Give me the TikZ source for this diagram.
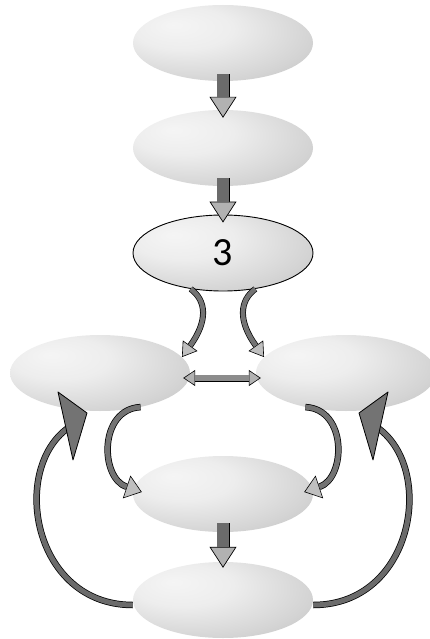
\documentclass[tikz,border=0pt]{standalone}
\usepackage{fontspec}
\setmainfont{Carlito}
\usetikzlibrary{arrows.meta,shapes.geometric}
\pgfdeclareradialshading{ellsh}{\pgfpoint{-14bp}{12bp}}{%
  color(0bp)=(black!4); color(14bp)=(black!7); color(32bp)=(black!17);
  color(50bp)=(black!29); color(70bp)=(black!36)}
\tikzset{
  ell/.style={ellipse, minimum width=180pt, minimum height=76pt, inner sep=0pt, shading=ellsh},
  blockdown/.style={line width=13pt, draw=black,
    -{Triangle[width=27pt,length=21pt,line width=0.7pt,fill=black!30]},
    postaction={draw=black!58, line width=11.4pt, arrows=-, shorten >=21pt}},
  dblarrow/.style={line width=7pt, draw=black,
    {Triangle[width=16pt,length=12pt,line width=0.6pt,fill=black!30]}-{Triangle[width=16pt,length=12pt,line width=0.6pt,fill=black!30]},
    postaction={draw=black!45, line width=5.6pt, arrows=-, shorten >=12pt, shorten <=12pt}},
  curvarrow/.style={line width=6pt, draw=black,
    -{Triangle[width=18pt,length=14pt,line width=0.6pt,fill=black!25]},
    postaction={draw=black!55, line width=4.6pt, arrows=-, shorten >=14pt}},
  curvarrowb/.style={line width=6.5pt, draw=black,
    -{Triangle[width=24pt,length=16pt,line width=0.6pt,fill=black!25]},
    postaction={draw=black!55, line width=5pt, arrows=-, shorten >=16pt}},
  bigshaft/.style={line width=6.5pt, draw=black,
    postaction={draw=black!58, line width=5pt}},
  bighead/.style={fill=black!55, draw=black, line width=0.8pt, line join=round}
}
\begin{document}
\begin{tikzpicture}[x=1pt,y=-1pt]
\useasboundingbox (0,0) rectangle (429,639);
% ellipses
\node[ell] (e1) at (223,43) {};
\node[ell] (e2) at (223,148) {};
\node[ell, draw=black, line width=0.9pt, font=\fontsize{40}{40}\selectfont] (e3) at (223,253) {3};
\node[ell] (e4) at (100,373) {};
\node[ell] (e5) at (346,373) {};
\node[ell] (e6) at (223,494) {};
\node[ell] (e7) at (223,600) {};
% straight arrows
\draw[blockdown] ([yshift=7pt]e1.south) -- ([yshift=-8pt]e2.north);
\draw[blockdown] ([yshift=8pt]e2.south) -- ([yshift=-8pt]e3.north);
\draw[blockdown] ([yshift=9pt]e6.south) -- ([yshift=-6pt]e7.north);
% double arrow
\draw[dblarrow] ([xshift=-7pt,yshift=-5pt]e4.east) -- ([xshift=5pt,yshift=-5pt]e5.west);
% curved arrows from 3
\draw[curvarrow] (e3.228) .. controls +(16,12) and +(26,-36) .. (e4.11);
\draw[curvarrow] (e3.312) .. controls +(-16,12) and +(-26,-36) .. (e5.169);
% curved arrows to lower middle
\draw[curvarrowb] (e4.320) .. controls +(-42,2) and +(-42,-14) .. ([xshift=9pt,yshift=2pt]e6.west);
\draw[curvarrowb] (e5.220) .. controls +(42,2) and +(42,-14) .. ([xshift=-9pt,yshift=2pt]e6.east);
% outer arrows
\coordinate (hl) at (68,428);
\coordinate (hr) at (378,428);
\coordinate (hlT) at (58,392);
\coordinate (hlR) at (87,413);
\coordinate (hlB) at (73,460);
\coordinate (hrT) at (388,392);
\coordinate (hrL) at (359,413);
\coordinate (hrB) at (373,460);
\draw[bigshaft] ([yshift=-5pt]e7.west) .. controls +(-100,0) and +(-58,42) .. (hl);
\draw[bigshaft] ([yshift=-5pt]e7.east) .. controls +(100,0) and +(58,42) .. (hr);
\draw[bighead] (hlT) -- (hlR) -- (hlB) -- cycle;
\draw[bighead] (hrT) -- (hrL) -- (hrB) -- cycle;
\end{tikzpicture}
\end{document}
